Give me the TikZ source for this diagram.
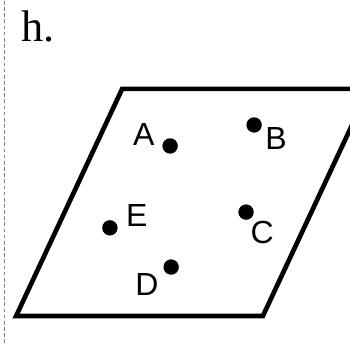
\documentclass[tikz,border=0pt]{standalone}
\usepackage{fontspec}
\newfontfamily\labelfont{Liberation Sans}
\newfontfamily\tagfont{Liberation Serif}
\usetikzlibrary{positioning}
\tikzset{
  pt/.style={circle,fill=black,inner sep=0pt,minimum size=0.44cm},
  ptlabel/.style={font=\labelfont\fontsize{26}{26}\selectfont,inner sep=0pt}
}

\begin{document}
\begin{tikzpicture}[scale=1.0]
\useasboundingbox (0,0) rectangle (10,9.8);
% margin line
\draw[gray,line width=0.8pt,dash pattern=on 3pt off 2pt] (0.14,0) -- (0.14,9.8);
\node[font=\tagfont\fontsize{36}{36}\selectfont] (tag) at (1.09,9.05) {h.};
% plane, cut off at the right edge
\begin{scope}
\clip (0,0) rectangle (10,9.8);
\draw[line width=3.8pt,line join=miter] (10.54,7.26) -- (3.49,7.26) -- (0.46,0.77) -- (7.51,0.77) -- (10.54,7.26);
\end{scope}
% points
\node[pt] (dA) at (4.86,5.63) {};
\node[pt] (dB) at (7.26,6.23) {};
\node[pt] (dC) at (7.03,3.74) {};
\node[pt] (dD) at (4.89,2.17) {};
\node[pt] (dE) at (3.14,3.29) {};
\node[ptlabel] (lA) at (4.11,5.97) {A};
\node[ptlabel] (lB) at (7.89,5.83) {B};
\node[ptlabel] (lC) at (7.49,3.17) {C};
\node[ptlabel] (lD) at (4.20,1.66) {D};
\node[ptlabel] (lE) at (3.91,3.63) {E};
\end{tikzpicture}
\end{document}
